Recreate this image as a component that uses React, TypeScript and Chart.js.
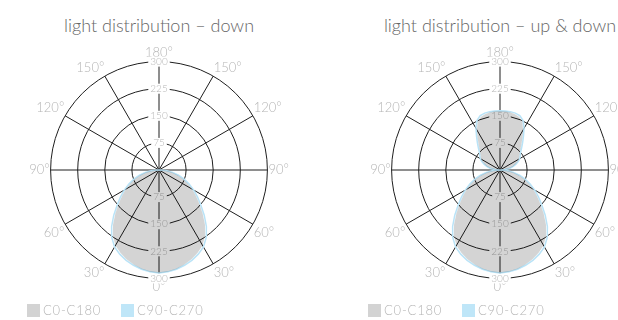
import React, { useEffect, useRef } from "react";
import { Chart, registerables } from "chart.js";

Chart.register(...registerables);

const FONT = "Lato, 'Open Sans', sans-serif";

// photometric angles gamma (0 = nadir, 180 = zenith), step 5°
const GAMMA = [0, 5, 10, 15, 20, 25, 30, 35, 40, 45, 50, 55, 60, 65, 70, 75, 80, 85, 90,
  95, 100, 105, 110, 115, 120, 125, 130, 135, 140, 145, 150, 155, 160, 165, 170, 175, 180];

// candela values (cd)
const DOWN_C0_C180 = [285, 283, 278, 271, 263, 253, 241, 222, 198, 171, 146, 125, 106, 88, 70, 53, 36, 18, 0,
  0, 0, 0, 0, 0, 0, 0, 0, 0, 0, 0, 0, 0, 0, 0, 0, 0, 0];
const DOWN_C90_C270 = [285, 283, 279, 273, 266, 257, 246, 228, 204, 177, 151, 130, 111, 92, 74, 56, 38, 19, 0,
  0, 0, 0, 0, 0, 0, 0, 0, 0, 0, 0, 0, 0, 0, 0, 0, 0, 0];
const UPDOWN_C0_C180 = [285, 283, 278, 271, 263, 253, 241, 222, 198, 171, 146, 125, 106, 88, 70, 53, 36, 18, 0,
  13, 26, 36, 45, 53, 60, 65, 71, 80, 92, 108, 128, 146, 156, 160, 162, 163, 163];
const UPDOWN_C90_C270 = [285, 283, 279, 273, 266, 257, 246, 228, 204, 177, 151, 130, 111, 92, 74, 56, 38, 19, 0,
  14, 28, 38, 47, 56, 63, 68, 74, 84, 97, 113, 133, 151, 160, 163, 164, 164, 164];

const TICK_VALUES = [0, 75, 150, 225, 300];
const LABEL_STEP = 30;
const SERIES_NAMES = ["C0-C180", "C90-C270"];
const TITLES = ["light distribution – down", "light distribution – up & down"];

const GRAY_FILL = "rgba(0,0,0,0.17)";
const BLUE_LINE = "#b9e3f7";
const LEGEND_GRAY = "#d3d3d3";
const LEGEND_BLUE = "#bfe6f8";
const TEXT_LIGHT = "#b5b5b5";
const GRID = "#1e1e1e";

// clockwise positions from top (zenith = 180° on top), step 5°
const STEP = GAMMA[1] - GAMMA[0];
const RING = Array.from({ length: 360 / STEP }, (_, i) => i * STEP);
const ringGamma = (phi: number) => Math.abs(180 - phi);
const RING_LABELS = RING.map((phi) => `${ringGamma(phi)}°`);
const toRing = (vals: number[]) => RING.map((phi) => vals[GAMMA.indexOf(ringGamma(phi))]);
const isMajor = (i: number) => ringGamma(RING[i]) % LABEL_STEP === 0;

// canvas geometry
const CW = 320;
const CH = 270;
const PAD_Y = 10;
const CENTER_Y = 171;

const bottomTicks = {
  id: "bottomTicks",
  beforeDatasetsDraw(chart: any) {
    const scale = chart.scales.r;
    const ctx = chart.ctx;
    ctx.save();
    ctx.font = `300 10px ${FONT}`;
    ctx.textAlign = "center";
    ctx.textBaseline = "middle";
    scale.ticks.forEach((tick: any, i: number) => {
      if (i === 0) return;
      const off = scale.getDistanceFromCenterForValue(tick.value);
      const x = scale.xCenter;
      const y = scale.yCenter + off;
      const w = ctx.measureText(String(tick.label)).width;
      ctx.fillStyle = "#ffffff";
      ctx.fillRect(x - w / 2 - 2, y - 5, w + 4, 10);
      ctx.fillStyle = TEXT_LIGHT;
      ctx.fillText(String(tick.label), x, y);
    });
    ctx.restore();
  },
};

function PolarPanel({ cx, title, c0, c90 }: { cx: number; title: string; c0: number[]; c90: number[] }) {
  const ref = useRef<HTMLCanvasElement | null>(null);
  useEffect(() => {
    if (!ref.current) return;
    const chart = new Chart(ref.current, {
      type: "radar",
      data: {
        labels: RING_LABELS,
        datasets: [
          {
            label: SERIES_NAMES[0],
            data: toRing(c0),
            backgroundColor: GRAY_FILL,
            borderWidth: 0,
            borderColor: "rgba(0,0,0,0)",
            fill: true,
            pointRadius: 0,
            tension: 0,
          },
          {
            label: SERIES_NAMES[1],
            data: toRing(c90),
            backgroundColor: "rgba(0,0,0,0)",
            borderColor: BLUE_LINE,
            borderWidth: 1.5,
            fill: false,
            pointRadius: 0,
            tension: 0,
          },
        ],
      },
      options: {
        responsive: false,
        animation: false,
        devicePixelRatio: 1,
        events: [],
        layout: { padding: { top: PAD_Y, bottom: PAD_Y, left: 0, right: 0 } },
        plugins: { legend: { display: false }, tooltip: { enabled: false }, title: { display: false } },
        scales: {
          r: {
            min: TICK_VALUES[0],
            max: TICK_VALUES[TICK_VALUES.length - 1],
            startAngle: 0,
            ticks: {
              stepSize: TICK_VALUES[1] - TICK_VALUES[0],
              color: TEXT_LIGHT,
              font: { family: FONT, size: 10, weight: "300" as any },
              backdropColor: "#ffffff",
              backdropPadding: { x: 2, y: 0 },
            },
            grid: { circular: true, color: GRID, lineWidth: 1 },
            angleLines: {
              display: true,
              color: GRID,
              lineWidth: (ctx: any) => (isMajor(ctx.index) ? 1 : 0),
            },
            pointLabels: {
              display: true,
              padding: -4,
              color: TEXT_LIGHT,
              font: { family: FONT, size: 13, weight: "300" as any, lineHeight: 1.2 },
              callback: (label: string, index: number) => (isMajor(index) ? label : ""),
            },
          },
        },
      },
      plugins: [bottomTicks],
    });
    return () => chart.destroy();
  }, [c0, c90]);

  return (
    <>
      <div
        style={{
          position: "absolute",
          left: cx - 160,
          width: 320,
          top: 14,
          textAlign: "center",
          fontSize: 18,
          lineHeight: "22px",
          color: "#666666",
          fontWeight: 300,
          whiteSpace: "nowrap",
        }}
      >
        {title}
      </div>
      <canvas
        ref={ref}
        width={CW}
        height={CH}
        style={{ position: "absolute", left: cx - CW / 2, top: CENTER_Y - Math.floor(CH / 2), width: CW, height: CH }}
      />
      {[LEGEND_GRAY, LEGEND_BLUE].map((col, i) => (
        <React.Fragment key={i}>
          <div
            style={{
              position: "absolute",
              left: cx - 132 + i * 94,
              top: 304,
              width: 13,
              height: 13,
              background: col,
            }}
          />
          <div
            style={{
              position: "absolute",
              left: cx - 116 + i * 94,
              top: 303,
              height: 15,
              lineHeight: "15px",
              fontSize: 13,
              letterSpacing: "0.8px",
              color: TEXT_LIGHT,
              fontWeight: 300,
              whiteSpace: "nowrap",
            }}
          >
            {SERIES_NAMES[i]}
          </div>
        </React.Fragment>
      ))}
    </>
  );
}

export default function App() {
  return (
    <div
      style={{
        position: "fixed",
        left: 0,
        top: 0,
        width: 618,
        height: 320,
        overflow: "hidden",
        background: "#ffffff",
        fontFamily: FONT,
      }}
    >
      <PolarPanel cx={159} title={TITLES[0]} c0={DOWN_C0_C180} c90={DOWN_C90_C270} />
      <PolarPanel cx={500} title={TITLES[1]} c0={UPDOWN_C0_C180} c90={UPDOWN_C90_C270} />
    </div>
  );
}
